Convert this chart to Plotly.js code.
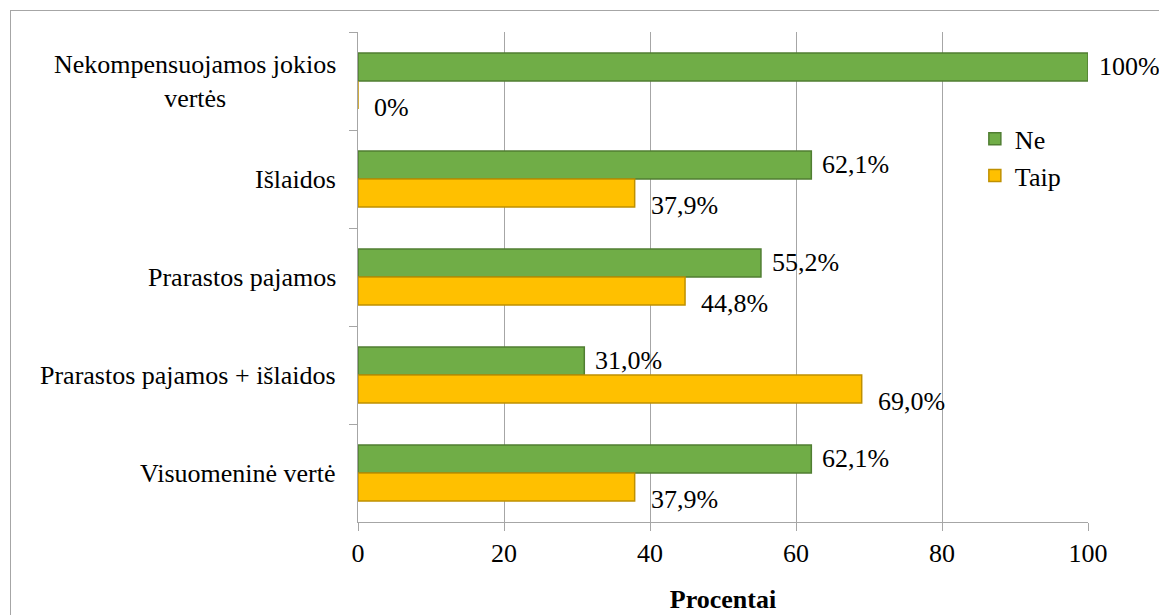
<!DOCTYPE html>
<html>
<head>
<meta charset="utf-8">
<script src="https://cdn.plot.ly/plotly-3.0.1.min.js"></script>
<style>
  html, body { margin: 0; padding: 0; background: #fff; overflow: hidden; }
  #chart { position: absolute; left: 0; top: 0; width: 1159px; height: 615px; }
  #frame {
    position: absolute; left: 10px; top: 10px; width: 1160px; height: 620px;
    border: 1px solid #a6a6a6; pointer-events: none; box-sizing: border-box;
  }
</style>
</head>
<body>
<div id="chart"></div>
<div id="frame"></div>
<script>
// Compensation types, listed from top to bottom
const categories = [
  'Nekompensuojamos jokios<br>vertės',
  'Išlaidos',
  'Prarastos pajamos',
  'Prarastos pajamos + išlaidos',
  'Visuomeninė vertė'
];
const seriesNames = ['Ne', 'Taip'];
const neValues   = [100, 62.1, 55.2, 31.0, 62.1];
const taipValues = [0, 37.9, 44.8, 69.0, 37.9];
const xTicks = [0, 20, 40, 60, 80, 100];

const FONT = 'Liberation Serif';
const GRID = '#a6a6a6';
const SIZE = 26;

// Lithuanian decimal comma; whole endpoints shown without decimals
function pct(v) {
  return (v === 0 || v === 100) ? v + '%' : v.toFixed(1).replace('.', ',') + '%';
}

const traces = [
  {
    type: 'bar', orientation: 'h', name: seriesNames[0],
    y: categories, x: neValues, legendgroup: 'a',
    marker: { color: '#70ad47', line: { color: '#507e32', width: 1.5 } },
    hoverinfo: 'skip'
  },
  {
    type: 'bar', orientation: 'h', name: seriesNames[1],
    y: categories, x: taipValues, legendgroup: 'b',
    marker: { color: '#ffc000', line: { color: '#bf9000', width: 1.5 } },
    hoverinfo: 'skip'
  }
];

const txt = (size = SIZE) => ({ family: FONT, size: size, color: '#000' });

// Value labels next to each bar end, plus the category names
const annotations = [];
categories.forEach((c, i) => {
  annotations.push({
    x: neValues[i], y: c, xref: 'x', yref: 'y', text: pct(neValues[i]),
    showarrow: false, xanchor: 'left', yanchor: 'middle',
    xshift: 9, yshift: 15, font: txt()
  });
  annotations.push({
    x: taipValues[i], y: c, xref: 'x', yref: 'y', text: pct(taipValues[i]),
    showarrow: false, xanchor: 'left', yanchor: 'middle',
    xshift: 14, yshift: -26, font: txt()
  });
  annotations.push({
    x: 0, y: c, xref: 'paper', yref: 'y', text: c,
    showarrow: false, xanchor: 'right', yanchor: 'middle', align: 'center',
    xshift: -20, font: txt()
  });
});

const layout = {
  width: 1159, height: 615,
  margin: { l: 358, r: 71, t: 32, b: 93 },
  paper_bgcolor: '#fff', plot_bgcolor: '#fff',
  font: txt(),
  barmode: 'group', bargap: 0.43, bargroupgap: 0,
  showlegend: true,
  legend: {
    x: 0.845, y: 0.83, xanchor: 'left', yanchor: 'top',
    traceorder: 'normal', tracegroupgap: 2,
    font: txt(), bgcolor: 'rgba(0,0,0,0)'
  },
  xaxis: {
    range: [0, 100], tickvals: xTicks, ticktext: xTicks.map(String),
    showgrid: true, gridcolor: GRID, gridwidth: 1,
    zeroline: false, showline: true, linecolor: GRID, linewidth: 1,
    ticks: 'outside', ticklen: 8, tickcolor: GRID,
    tickfont: txt(),
    title: { text: '<b>Procentai</b>', font: txt(), standoff: 22 },
    fixedrange: true
  },
  yaxis: {
    type: 'category', autorange: 'reversed',
    showticklabels: false, showgrid: false, zeroline: false,
    showline: true, linecolor: GRID, linewidth: 1,
    ticks: 'outside', tickson: 'boundaries', ticklen: 8, tickcolor: GRID,
    fixedrange: true
  },
  annotations: annotations
};

Plotly.newPlot('chart', traces, layout, { displayModeBar: false, staticPlot: true });
</script>
</body>
</html>
